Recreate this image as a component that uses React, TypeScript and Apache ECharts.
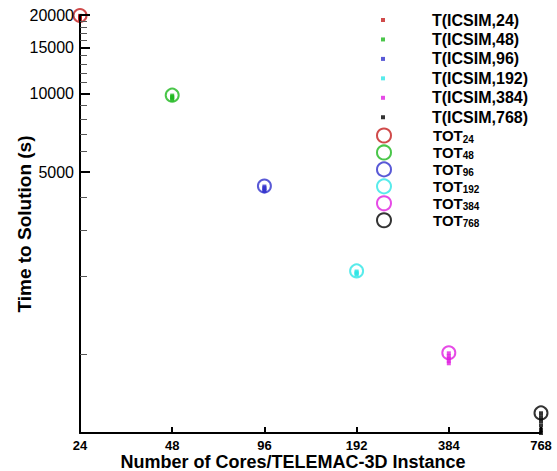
import React, { useEffect, useRef } from "react";
import * as echarts from "echarts";

const categories = ["24", "48", "96", "192", "384", "768"];
const totNames = ["TOT24", "TOT48", "TOT96", "TOT192", "TOT384", "TOT768"];
const tNames = ["T(ICSIM,24)", "T(ICSIM,48)", "T(ICSIM,96)", "T(ICSIM,192)", "T(ICSIM,384)", "T(ICSIM,768)"];
const colors = ["#c41e1e", "#1db81d", "#2f2fcc", "#2ee6e6", "#e01ee0", "#000000"];

const totValues = [19900, 9860, 4420, 2090, 1015, 597];
const tIcsim24 = [19850, 19650, 19450, 19300];
const tIcsim48 = [9820, 9700, 9590, 9480];
const tIcsim96 = [4400, 4340, 4280, 4230];
const tIcsim192 = [2080, 2060, 2040, 2020];
const tIcsim384 = [1010, 985, 965, 945, 925];
const tIcsim768 = [595, 575, 555, 535, 515, 500];
const tIcsimAll = [tIcsim24, tIcsim48, tIcsim96, tIcsim192, tIcsim384, tIcsim768];

const yMin = 500;
const yMax = 20000;
const yMajorTicks = [5000, 10000, 15000, 20000];
const yMinorTicks = [1000, 2000, 3000, 4000, 6000, 7000, 8000, 9000, 11000, 12000, 13000, 14000, 16000, 17000, 18000, 19000];

const FONT = "'Liberation Sans', Arial, sans-serif";
const lg = (v: number) => Math.log10(v);

export default function App() {
  const ref = useRef<HTMLDivElement>(null);
  useEffect(() => {
    if (!ref.current) return;
    const chart = echarts.init(ref.current, null, { renderer: "svg" });
    const totSeries = totNames.map((name, i) => ({
      name,
      type: "scatter",
      z: -1,
      clip: false,
      symbol: "emptyCircle",
      symbolSize: 13,
      itemStyle: { color: colors[i], borderWidth: 2.5 },
      data: [[categories[i], lg(totValues[i])]],
    }));
    const tSeries = tNames.map((name, i) => ({
      name,
      type: "scatter",
      z: -1,
      clip: false,
      symbol: "rect",
      symbolSize: 4,
      itemStyle: { color: colors[i] },
      data: tIcsimAll[i].map((v) => [categories[i], lg(v)]),
    }));
    const yCommon = {
      type: "value",
      min: lg(yMin),
      max: lg(yMax),
      splitLine: { show: false },
    };
    chart.setOption({
      animation: false,
      textStyle: { fontFamily: FONT },
      grid: { left: 80, right: 16, top: 15, bottom: 38, outerBoundsMode: "none", containLabel: false },
      xAxis: {
        type: "category",
        data: categories,
        boundaryGap: false,
        name: "Number of Cores/TELEMAC-3D Instance",
        nameLocation: "middle",
        nameMoveOverlap: false,
        nameGap: 20,
        nameTextStyle: { fontSize: 18, fontWeight: "bold", color: "#000", fontFamily: FONT, padding: [0, 35, 0, 0] },
        axisLine: { lineStyle: { color: "#000", width: 2 } },
        axisTick: { inside: true, length: 6, alignWithLabel: true, lineStyle: { color: "#000", width: 2 } },
        axisLabel: { fontSize: 13, lineHeight: 13, fontWeight: "bold", color: "#000", margin: 6, fontFamily: FONT },
        splitLine: { show: false },
      },
      yAxis: [
        {
          ...yCommon,
          name: "Time to Solution (s)",
          nameLocation: "middle",
          nameMoveOverlap: false,
          nameGap: 46,
          nameTextStyle: { fontSize: 19, fontWeight: "bold", color: "#000", fontFamily: FONT },
          axisLine: { show: true, lineStyle: { color: "#000", width: 2 } },
          axisTick: { show: true, inside: true, length: 10, customValues: yMajorTicks.map(lg), lineStyle: { color: "#000", width: 2 } },
          axisLabel: {
            fontSize: 16,
            color: "#000",
            margin: 6,
            fontFamily: FONT,
            customValues: yMajorTicks.map(lg),
            formatter: (v: number) => String(Math.round(Math.pow(10, v))),
          },
        },
        {
          ...yCommon,
          position: "left",
          axisLine: { show: false },
          axisTick: { show: true, inside: true, length: 7, customValues: yMinorTicks.map(lg), lineStyle: { color: "#555", width: 1 } },
          axisLabel: { show: false },
        },
      ],
      legend: [
        {
          data: tNames.map((name) => ({ name, icon: "rect" })),
          orient: "vertical",
          left: 381,
          top: 10.5,
          padding: 0,
          itemWidth: 4,
          itemHeight: 4,
          itemGap: 0.45,
          selectedMode: false,
          textStyle: { fontSize: 16, fontWeight: "bold", lineHeight: 19, color: "#000", fontFamily: FONT, padding: [0, 0, 0, 42] },
        },
        {
          data: totNames,
          orient: "vertical",
          left: 376,
          top: 127.5,
          padding: 0,
          itemWidth: 14,
          itemHeight: 14,
          itemGap: 0.45,
          selectedMode: false,
          formatter: (name: string) => `{a|TOT}{b|${name.replace("TOT", "")}}`,
          textStyle: {
            fontSize: 15,
            fontWeight: "bold",
            color: "#000",
            fontFamily: FONT,
            padding: [0, 0, 0, 37],
            rich: {
              a: { fontSize: 15, fontWeight: "bold", lineHeight: 19, color: "#000", fontFamily: FONT },
              b: { fontSize: 10, fontWeight: "bold", color: "#000", fontFamily: FONT, padding: [7, 0, 0, 0] },
            },
          },
        },
      ],
      series: [...totSeries, ...tSeries],
    });
    return () => chart.dispose();
  }, []);
  return <div ref={ref} style={{ position: "fixed", left: 0, top: 0, width: 557, height: 471, background: "#fff" }} />;
}
